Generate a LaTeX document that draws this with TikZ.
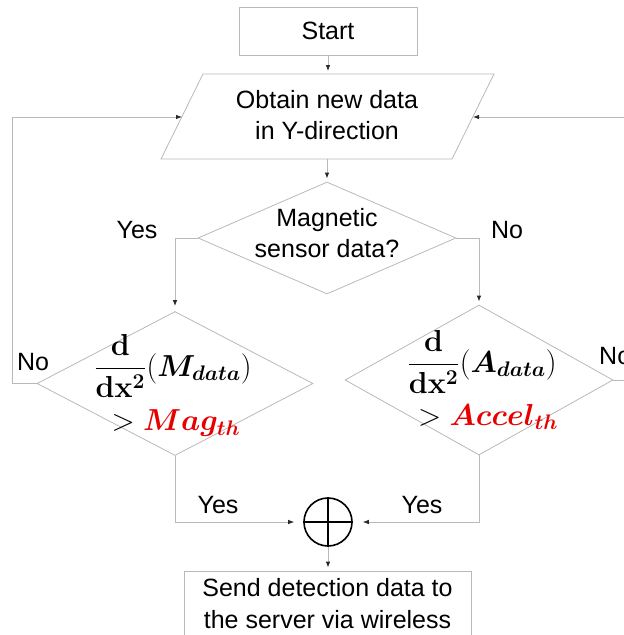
\documentclass[tikz,border=0pt]{standalone}
\usepackage[no-math]{fontspec}
\setmainfont{Liberation Sans}
\usepackage{amsmath,bm,graphicx}
\usetikzlibrary{shapes.geometric,arrows.meta}
\definecolor{lineg}{RGB}{185,185,185}
\definecolor{tipg}{RGB}{40,40,40}
\definecolor{mred}{RGB}{230,0,0}
\newcommand{\bigmath}[1]{\scalebox{1.22}{#1}}
\tikzset{
  flow/.style={draw=lineg, line width=0.8pt},
  conn/.style={draw=lineg, line width=0.8pt, -{Latex[length=6pt,width=4.5pt,color=tipg]}},
  lbl/.style={font=\fontsize{25}{31}\selectfont, inner sep=0pt},
  mth/.style={font=\fontsize{24}{29}\selectfont, inner sep=0pt},
  dmd/.style={diamond, draw=lineg, line width=0.8pt, inner sep=0pt},
  boxnode/.style={rectangle, draw=lineg, line width=0.8pt, inner sep=0pt},
  sumnode/.style={circle, draw=black, line width=1.6pt, minimum size=48pt, inner sep=0pt}
}
\begin{document}
\begin{tikzpicture}[x=1pt, y=-1pt]
\useasboundingbox (0,0) rectangle (624,635);
\clip (0,0) rectangle (624,635);

% Start
\node[boxnode, minimum width=178pt, minimum height=48pt, font=\fontsize{25}{31}\selectfont] (start) at (328,31) {Start};

% Parallelogram
\coordinate (pTL) at (203,74);
\coordinate (pTR) at (494,74);
\coordinate (pBR) at (452,159);
\coordinate (pBL) at (161,159);
\draw[flow] (pTL) -- (pTR) -- (pBR) -- (pBL) -- cycle;
\node[lbl, align=center] (obtain) at (327,115) {Obtain new data\\in Y-direction};
\coordinate (obtainN) at (328,74);
\coordinate (obtainS) at (327,159);
\coordinate (obtainW) at (182,117);
\coordinate (obtainE) at (473,117);

\draw[conn, shorten >=3pt] (start.south) -- (obtainN);

% Top decision
\node[dmd, minimum width=258pt, minimum height=112pt] (mag) at (327,238) {};
\node[lbl, align=center] (magtxt) at (327,233) {Magnetic\\sensor data?};
\draw[conn, shorten >=3pt] (obtainS) -- (mag.north);

% Lower decisions
\node[dmd, minimum width=276pt, minimum height=144pt] (dm) at (175,383.5) {};
\node[dmd, minimum width=268pt, minimum height=150pt] (da) at (479,380) {};

\node[mth] (mexpr) at (173,366) {\bigmath{$\dfrac{\mathbf{d}}{\mathbf{dx^{2}}}(\bm{M_{data}})$}};
\node[mth] (mthr) at (176,423) {\bigmath{$>\textcolor{mred}{\bm{Mag_{th}}}$}};
\node[mth] (aexpr) at (482,362) {\bigmath{$\dfrac{\mathbf{d}}{\mathbf{dx^{2}}}(\bm{A_{data}})$}};
\node[mth] (athr) at (488,417) {\bigmath{$>\textcolor{mred}{\bm{Accel_{th}}}$}};

% branches
\draw[conn, shorten >=5pt] (mag.west) -| (dm.north);
\draw[conn, shorten >=3pt] (mag.east) -| (da.north);
\node[lbl] (yes1) at (137,230) {Yes};
\node[lbl] (no1) at (507,230) {No};

% loops
\draw[conn] (dm.west) -- ++(-24,0) |- (obtainW);
\draw[conn] (da.east) -- ++(30,0) |- (obtainE);
\node[lbl] (no2) at (33,362) {No};
\node[lbl, anchor=west] (no3) at (599,356) {No};

% sum
\node[sumnode] (sum) at (328,522) {};
\draw[black, line width=1.6pt] (sum.north) -- (sum.south) (sum.west) -- (sum.east);
\draw[conn, shorten >=9pt] (dm.south) |- (sum.west);
\draw[conn, shorten >=10pt] (da.south) |- (sum.east);
\node[lbl] (yes2) at (218,505) {Yes};
\node[lbl] (yes3) at (422,505) {Yes};

% Send box
\node[boxnode, minimum width=287pt, minimum height=72pt] (send) at (327.5,607) {};
\node[lbl, align=center, font=\fontsize{25}{32}\selectfont] (sendtxt) at (327.5,603.5) {Send detection data to\\the server via wireless};
\draw[conn, shorten >=3pt] (sum.south) -- (sum.south |- send.north);
\end{tikzpicture}
\end{document}
